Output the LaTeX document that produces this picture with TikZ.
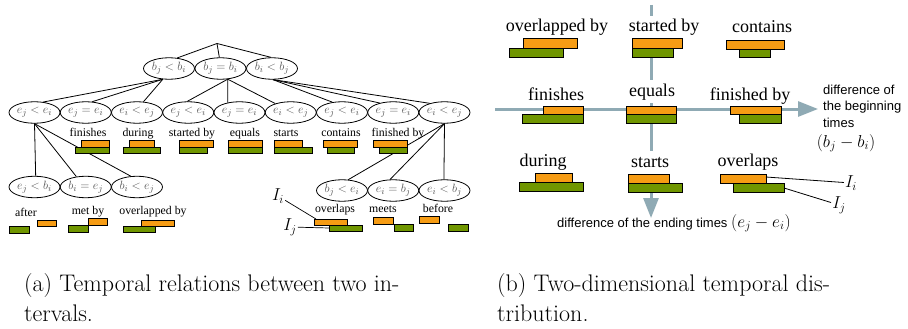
\documentclass[tikz,border=0pt]{standalone}
\usepackage{fontspec}
\newfontfamily\tnr{Liberation Serif}
\setsansfont{Liberation Sans}
\usetikzlibrary{arrows.meta,shapes.geometric}
\definecolor{orb}{RGB}{246,156,20}
\definecolor{grb}{RGB}{112,150,0}
\definecolor{axc}{RGB}{143,170,180}
\definecolor{elt}{RGB}{85,85,85}
\begin{document}
\begin{tikzpicture}[x=1pt,y=-1pt,
  ell/.style={draw, ellipse, minimum width=51pt, minimum height=21.5pt, inner sep=0pt, line width=0.8pt, font=\fontsize{12.5}{13}\selectfont, text=elt},
  tl/.style={line width=0.8pt},
  ob/.style={draw=black, fill=orb, line width=0.7pt},
  gb/.style={draw=black, fill=grb, line width=0.7pt},
  obr/.style={draw=black, fill=orb, line width=0.9pt},
  gbr/.style={draw=black, fill=grb, line width=0.9pt},
  sl/.style={font=\tnr\fontsize{11.8}{13}\selectfont, anchor=base, inner sep=0pt},
  bl/.style={font=\tnr\fontsize{18}{20}\selectfont, anchor=base, fill=white, inner sep=3pt, text height=13pt, text depth=4pt},
  ax/.style={draw=axc, line width=3pt, -{Triangle[length=20pt,width=15pt]}},
  il/.style={font=\fontsize{18}{20}\selectfont, inner sep=1pt},
  captxt/.style={font=\fontsize{24}{30}\selectfont, anchor=base west, inner sep=0pt}
]
\fill[white] (0,0) rectangle (908,329);
\useasboundingbox (0,0) rectangle (908,329);

% ---------------- (a) tree ----------------
\coordinate (root) at (217,43.5);
\node[ell] (b1) at (169,68.5) {$b_j<b_i$};
\node[ell] (b2) at (220.5,68.5) {$b_j=b_i$};
\node[ell] (b3) at (272,68.5) {$b_i<b_j$};

\node[ell] (e1) at (34.5,112.5) {$e_j<e_i$};
\node[ell] (e2) at (85.75,112.5) {$e_j=e_i$};
\node[ell] (e3) at (137,112.5) {$e_i<e_j$};
\node[ell] (e4) at (188.25,112.5) {$e_j<e_i$};
\node[ell] (e5) at (239.5,112.5) {$e_j=e_i$};
\node[ell] (e6) at (290.75,112.5) {$e_i<e_j$};
\node[ell] (e7) at (342,112.5) {$e_j<e_i$};
\node[ell] (e8) at (393.25,112.5) {$e_j=e_i$};
\node[ell] (e9) at (444.5,112.5) {$e_i<e_j$};

\node[ell] (la) at (34.5,187) {$e_j<b_i$};
\node[ell] (lb) at (85.75,187) {$b_i=e_j$};
\node[ell] (lc) at (137,187) {$b_i<e_j$};
\node[ell] (ld) at (342,190.5) {$b_j<e_i$};
\node[ell] (le) at (393.25,190.5) {$e_i=b_j$};
\node[ell] (lf) at (444.5,190.5) {$e_i<b_j$};

\draw[tl] (root) -- (b1.52);
\draw[tl] (root) -- (b2.96);
\draw[tl] (root) -- (b3.95);
\draw[tl] (b1.-120) -- (e1.50);
\draw[tl] (b1.-120) -- (e2.59);
\draw[tl] (b1.-120) -- (e3.59);
\draw[tl] (b2.-56) -- (e4.95);
\draw[tl] (b2.-56) -- (e5.140);
\draw[tl] (b2.-56) -- (e6.150);
\draw[tl] (b3.-85) -- (e7.133);
\draw[tl] (b3.-85) -- (e8.145);
\draw[tl] (b3.-85) -- (e9.148);
\draw[tl] (e1.south) -- (la.84);
\draw[tl] (e1.south) -- (lb.132);
\draw[tl] (e1.south) -- (lc.120);
\draw[tl] (e9.south) -- (ld.60);
\draw[tl] (e9.south) -- (le.106);
\draw[tl] (e9.south) -- (lf.93);

% relation labels and bars, level 2
\node[sl] (tfin) at (88,136) {finishes};
\node[sl] (tdur) at (138,136) {during};
\node[sl] (tsby) at (192,136) {started by};
\node[sl] (tequ) at (245,136) {equals};
\node[sl] (tsta) at (286,136) {starts};
\node[sl] (tcon) at (341,136) {contains};
\node[sl] (tfby) at (398,136) {finished by};

\draw[ob] (81,140.5) rectangle (109,147);   \draw[gb] (75,147) rectangle (109,153.3);
\draw[ob] (129,140.5) rectangle (154,147);  \draw[gb] (123,147) rectangle (160,153.3);
\draw[ob] (179,140.5) rectangle (213.5,147);\draw[gb] (179,147) rectangle (207,153.3);
\draw[ob] (228,140.5) rectangle (262,147);  \draw[gb] (228,147) rectangle (262,153.3);
\draw[ob] (274,140.5) rectangle (302,147);  \draw[gb] (274,147) rectangle (312,153.3);
\draw[ob] (323,140.5) rectangle (357,147);  \draw[gb] (327,147) rectangle (354,153.3);
\draw[ob] (373,140.5) rectangle (407,147);  \draw[gb] (379,147) rectangle (407,153.3);

% level 3 labels and bars
\node[sl] (taft) at (26,216) {after};
\node[sl] (tmby) at (88,214.5) {met by};
\node[sl] (toby) at (153,214.5) {overlapped by};
\node[sl] (tovl) at (335,212.5) {overlaps};
\node[sl] (tmee) at (383,212.5) {meets};
\node[sl] (tbef) at (438,212.5) {before};

\draw[ob] (37,220) rectangle (56,226.7);    \draw[gb] (9,226.7) rectangle (29,233);
\draw[ob] (88,218.3) rectangle (107,225.5); \draw[gb] (68,225.5) rectangle (88,232.7);
\draw[ob] (141,220.5) rectangle (174,226.7);\draw[gb] (123,226.7) rectangle (155,232.5);
\draw[ob] (314,219) rectangle (347,225);    \draw[gb] (329,225) rectangle (362,231);
\draw[ob] (373,217) rectangle (393,224);    \draw[gb] (394,224) rectangle (413,231);
\draw[ob] (419,216) rectangle (439,223);    \draw[gb] (448,224) rectangle (468,231);

\coordinate (aio) at (316,219);
\coordinate (ajg) at (329,228);
\node[il] (aIi) at (278,196) {$I_i$};
\node[il] (aIj) at (290,227) {$I_j$};
\draw[line width=0.7pt] (aIi) -- (aio);
\draw[line width=0.7pt] (aIj) -- (ajg);

% ---------------- (b) plane ----------------
\coordinate (hs) at (495,109);
\coordinate (he) at (818,109);
\coordinate (vs) at (651,5);
\coordinate (ve) at (651,218);
\draw[ax] (hs) -- (he);
\draw[ax] (vs) -- (ve);

\node[bl] (roby) at (557,31.7) {overlapped by};
\node[bl] (rsby) at (664,32) {started by};
\node[bl] (rcon) at (762,33) {contains};
\node[bl] (rfin) at (556,100) {finishes};
\node[bl] (requ) at (652,96) {equals};
\node[bl] (rfby) at (750,100.5) {finished by};
\node[bl] (rdur) at (543,166.7) {during};
\node[bl] (rsta) at (650,167.3) {starts};
\node[bl] (rovl) at (748,166.7) {overlaps};

\draw[obr] (523,38.5) rectangle (577,48);  \draw[gbr] (509,48) rectangle (563,57);
\draw[obr] (632,38.5) rectangle (682,48);  \draw[gbr] (632,48) rectangle (673,57);
\draw[obr] (726,40.5) rectangle (784,49);  \draw[gbr] (739,49) rectangle (770,57.5);
\draw[obr] (543,106) rectangle (583,114.5);\draw[gbr] (522,114.5) rectangle (583,123);
\draw[obr] (626,106) rectangle (676,114.5);\draw[gbr] (626,114.5) rectangle (676,123);
\draw[obr] (730,106) rectangle (781,114.5);\draw[gbr] (739,114.5) rectangle (781,123);
\draw[obr] (535,173.5) rectangle (572,182);\draw[gbr] (519,182) rectangle (583,191);
\draw[obr] (628,174) rectangle (669,183);  \draw[gbr] (628,183) rectangle (682,192);
\draw[obr] (720,174) rectangle (766,183);  \draw[gbr] (733,183) rectangle (784,192);

\coordinate (bio) at (766,177);
\coordinate (bjg) at (784,188);
\node[il] (bIi) at (851,183) {$I_i$};
\node[il] (bIj) at (839,205) {$I_j$};
\draw[line width=0.8pt] (bio) -- (bIi);
\draw[line width=0.8pt] (bjg) -- (bIj);

\node[anchor=west, align=left, inner sep=0pt, font=\sffamily\fontsize{13}{16.5}\selectfont] (xlab) at (823,106) {difference of\\the beginning\\times};
\node[inner sep=0pt] (xmath) at (846,143) {\fontsize{17}{20}\selectfont$(b_j-b_i)$};
\node[anchor=west, inner sep=0pt] (ylab) at (557,223) {\sffamily\fontsize{13}{15}\selectfont difference of the ending times \fontsize{17}{20}\selectfont$(e_j-e_i)$};

% ---------------- captions ----------------
\node[captxt] (capa1) at (24,291) {(a) Temporal relations between two in-};
\node[captxt] (capa2) at (24,321) {tervals.};
\node[captxt] (capb1) at (497,291) {(b) Two-dimensional temporal dis-};
\node[captxt] (capb2) at (497,321) {tribution.};
\end{tikzpicture}
\end{document}
